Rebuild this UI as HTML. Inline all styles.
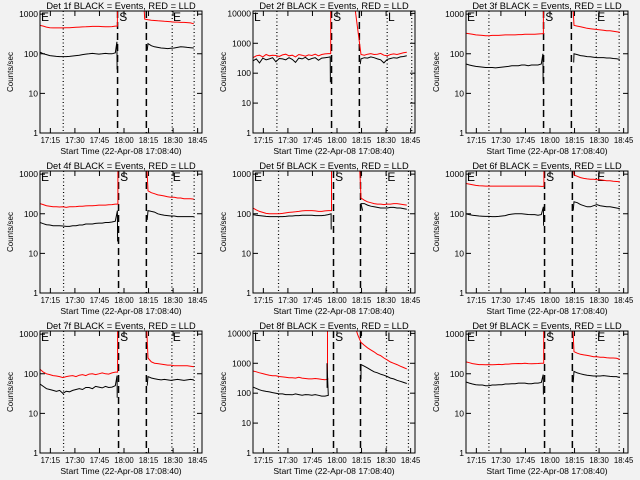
<!DOCTYPE html>
<html><head><meta charset="utf-8"><style>
html,body{margin:0;padding:0;background:#f2f2f2;}
svg{display:block;font-family:"Liberation Sans",sans-serif;}
</style></head><body>
<svg id="c" width="640" height="480" viewBox="0 0 640 480"></svg>
<script>
const tPre=[0,2,4,6,8,10,12,14,16,18,20,22,24,26,28,30,32,34,36,38,40,42,44,46];
const tRedPost=[62,64,66,68,70,72,74,76,78,80,82,84,86,88,90,92,94];
const tBlkPost=[66,68,70,72,74,76,78,80,82,84,86,88,90,92,94];
const xTickLabels=["17:15","17:30","17:45","18:00","18:15","18:30","18:45"];
const xTickTimes=[6.33,21.33,36.33,51.33,66.33,81.33,96.33];
const detNames=["1f","2f","3f","4f","5f","6f","7f","8f","9f"];
const yMax=[1200,12000,1200,1200,1200,1200,1200,12000,1200];
const riseT=[47.3,47.5,47.3,47.6,48,47.6,47.4,45.5,47.5];
const spikeHi=[200,350,100,120,100,150,90,1000,95];
const spikeLo=[40,50,20,20,40,50,25,150,30];
const blkStart=[[65.5,120],[65.5,200],[65.8,60],[65.5,70],[67,120],[65.5,120],[65.5,50],[66,300],[65.5,60]];
const dotted=[[14.2,80.8,94.2],[14.6,82,97],[14,79.6,93.6],[14.4,80.6,94.2],[15.6,81.6,95],[14,79.6,93.6],[14.4,80.6,94.2],[15.6,81.6,95],[14,79.6,93.6]];
const dashed=[[47.4,65],[48,65],[47.4,64.4],[48,65],[49.2,65.7],[48,65],[48,65],[49.2,65.7],[48,65]];
const marks=[["E","S","E"],["L","S","L"],["E","S","E"],["E","S","E"],["E","S","E"],["E","S","E"],["E","S","E"],["L","S","L"],["E","S","E"]];
const redPre=[
[520,500,470,455,450,450,450,450,455,455,460,465,470,475,480,485,490,490,490,485,480,480,485,500],
[330,380,400,350,420,380,400,390,360,410,430,380,400,350,420,400,370,410,390,430,380,420,440,450],
[330,320,310,300,295,290,285,285,290,290,290,295,300,300,300,300,305,305,310,310,310,310,315,320],
[180,170,160,155,150,150,148,150,145,150,150,152,155,155,158,160,160,162,165,165,165,168,170,175],
[140,125,115,108,102,100,100,100,100,102,105,108,110,112,115,118,120,120,120,118,115,115,118,120],
[580,560,540,520,510,505,500,500,500,500,500,500,500,500,500,500,500,500,500,500,500,500,500,490],
[130,110,100,95,90,88,85,80,85,88,90,85,92,95,90,98,100,95,100,105,100,98,105,110],
[550,520,480,450,420,400,380,380,360,350,340,330,330,320,340,320,310,300,300,310,300,290,280,300],
[200,190,180,175,170,170,168,170,168,170,172,170,175,175,178,180,182,180,185,180,178,180,182,185]];
const blkPre=[
[110,100,95,90,88,86,85,85,85,86,88,90,92,95,98,100,102,100,98,100,102,100,100,105],
[260,300,220,320,280,300,330,240,310,300,280,330,290,230,320,300,340,280,310,330,270,320,330,340],
[55,52,50,48,47,46,45,45,45,44,45,46,47,48,50,50,50,52,52,50,52,52,52,55],
[60,56,53,52,50,50,50,49,48,48,50,50,52,52,55,55,55,57,58,58,60,60,62,65],
[95,92,90,88,86,85,85,85,85,85,86,88,88,90,90,92,92,92,92,90,90,90,92,95],
[100,95,92,90,88,87,86,86,85,85,86,88,90,95,98,100,100,100,98,96,95,95,92,95],
[55,48,42,40,38,36,38,32,36,35,38,40,42,40,45,45,42,48,46,44,48,45,46,50],
[160,145,130,120,115,110,105,100,95,95,90,90,88,95,90,85,90,88,85,90,85,80,80,85],
[62,58,55,53,52,52,50,50,52,52,53,53,55,55,56,56,58,58,58,56,56,58,58,60]];
const redPost=[
[20000,750,720,700,690,680,670,660,650,640,630,630,620,620,610,600,570],
[20000,3000,420,400,430,450,420,430,460,400,380,420,440,420,450,480,500],
[20000,20000,520,500,480,460,440,430,420,410,400,390,380,380,370,360,350],
[20000,20000,380,340,320,300,290,280,270,260,260,250,250,240,240,240,235],
[20000,20000,250,220,200,190,180,175,175,170,175,175,180,180,175,170,165],
[20000,20000,950,880,820,780,760,740,740,720,720,700,680,680,660,650,640],
[20000,20000,250,200,185,180,175,170,165,165,160,160,160,160,160,155,150],
[20000,9000,5000,4000,3300,2800,2400,2000,1800,1500,1300,1100,1000,900,800,720,650],
[20000,20000,360,330,310,300,290,280,270,270,260,260,255,250,250,245,230]];
const blkPost=[
[180,160,150,145,140,138,135,138,140,145,150,148,145,142,140],
[300,330,320,350,330,300,280,220,290,310,330,320,350,360,380],
[100,95,90,88,85,84,82,80,80,80,78,78,76,75,72],
[120,115,110,100,95,92,90,88,88,85,85,85,85,85,85],
[180,180,165,155,150,145,140,140,140,145,145,140,140,135,130],
[200,190,170,160,150,150,160,170,160,155,150,150,145,140,135],
[85,78,75,72,70,72,70,68,70,72,70,68,70,72,70],
[900,800,700,600,520,480,430,400,360,320,300,270,250,230,210],
[115,105,100,95,92,90,88,88,88,90,88,86,85,85,80]];

const NS="http://www.w3.org/2000/svg";
const svg=document.getElementById('c');
const colX=[40,253,466], rowY=[11,171,331], W=162, H=122, TMAX=99;
function mk(tag,attrs,parent){const e=document.createElementNS(NS,tag);for(const k in attrs)e.setAttribute(k,attrs[k]);(parent||svg).appendChild(e);return e;}

for(let p=0;p<9;p++){
  const L=colX[p%3], T=rowY[Math.floor(p/3)];
  const ymax=yMax[p];
  const xs=t=>L+t/TMAX*W;
  const ys=v=>T+H-Math.log10(Math.max(v,1))/Math.log10(ymax)*H;
  const g=mk('g',{});
  
  
  const cp=mk('clipPath',{id:'cp'+p},g);
  mk('rect',{x:L,y:T,width:W,height:H},cp);
  const title=mk('text',{x:L+W/2,y:T-2,'text-anchor':'middle','font-size':'9.3'},g);
  title.textContent='Det '+detNames[p]+' BLACK = Events, RED = LLD';
  
  
  const yl=mk('text',{x:0,y:0,'text-anchor':'middle','font-size':'8',transform:'translate('+(L-27)+','+(T+H/2)+') rotate(-90)'},g);
  yl.textContent='Counts/sec';
  
  
  const xl=mk('text',{x:L+W/2,y:T+H+21,'text-anchor':'middle','font-size':'8.6'},g);
  xl.textContent='Start Time (22-Apr-08 17:08:40)';
  
  
  const ndec=Math.round(Math.log10(ymax));
  for(let d=0;d<=ndec;d++){
    const v=Math.pow(10,d), y=ys(v);
    mk('line',{x1:L,x2:L+5,y1:y,y2:y,stroke:'#000','stroke-width':1},g);
    mk('line',{x1:L+W-5,x2:L+W,y1:y,y2:y,stroke:'#000','stroke-width':1},g);
    const tl=mk('text',{x:L-2,y:y+3,'text-anchor':'end','font-size':'8.5'},g);
    tl.textContent=String(v);
    
    
  }
  for(let i=0;i<xTickTimes.length;i++){
    const x=xs(xTickTimes[i]);
    mk('line',{x1:x,x2:x,y1:T+H,y2:T+H-5,stroke:'#000','stroke-width':1},g);
    mk('line',{x1:x,x2:x,y1:T,y2:T+5,stroke:'#000','stroke-width':1},g);
    const tl=mk('text',{x:x,y:T+H+10,'text-anchor':'middle','font-size':'7.8'},g);
    tl.textContent=xTickLabels[i];
    
    
  }
  dotted[p].forEach(t=>{const x=xs(t);const e=mk('line',{x1:x,x2:x,y1:T,y2:T+H,stroke:'#000','stroke-width':1.2,'stroke-dasharray':'1 2.5'},g);
    });
  dashed[p].forEach(t=>{const x=xs(t);const e=mk('line',{x1:x,x2:x,y1:T,y2:T+H,stroke:'#000','stroke-width':1.5,'stroke-dasharray':'7 4'},g);
    });
  const mT=[0.6,dashed[p][0]+1,dotted[p][1]+0.5];
  for(let i=0;i<3;i++){const m=mk('text',{x:xs(mT[i]),y:T+10,'font-size':'12'},g);m.textContent=marks[p][i];
    }
  const dg=mk('g',{'clip-path':'url(#cp'+p+')'},g);
  let rp=tPre.map((t,i)=>[t,redPre[p][i]]);
  rp.push([riseT[p],redPre[p][23]]);rp.push([riseT[p],20000]);
  const rPost=tRedPost.map((t,i)=>[t,redPost[p][i]]);
  const red=rp.concat(rPost);
  const rl=mk('polyline',{points:red.map(q=>xs(q[0]).toFixed(1)+','+ys(q[1]).toFixed(1)).join(' '),fill:'none',stroke:'#ff0000','stroke-width':1},dg);
  
  let bp=tPre.map((t,i)=>[t,blkPre[p][i]]);
  bp.push([riseT[p]-0.3,spikeHi[p]]);bp.push([riseT[p]-0.2,spikeLo[p]]);
  const bl=mk('polyline',{points:bp.map(q=>xs(q[0]).toFixed(1)+','+ys(q[1]).toFixed(1)).join(' '),fill:'none',stroke:'#000','stroke-width':1},dg);
  
  const bq=[blkStart[p]].concat(tBlkPost.map((t,i)=>[t,blkPost[p][i]]));
  const bl2=mk('polyline',{points:bq.map(q=>xs(q[0]).toFixed(1)+','+ys(q[1]).toFixed(1)).join(' '),fill:'none',stroke:'#000','stroke-width':1},dg);
  
  const box=mk('rect',{x:L,y:T,width:W,height:H,fill:'none',stroke:'#000','stroke-width':1},g);
  
}
</script>
</body></html>
